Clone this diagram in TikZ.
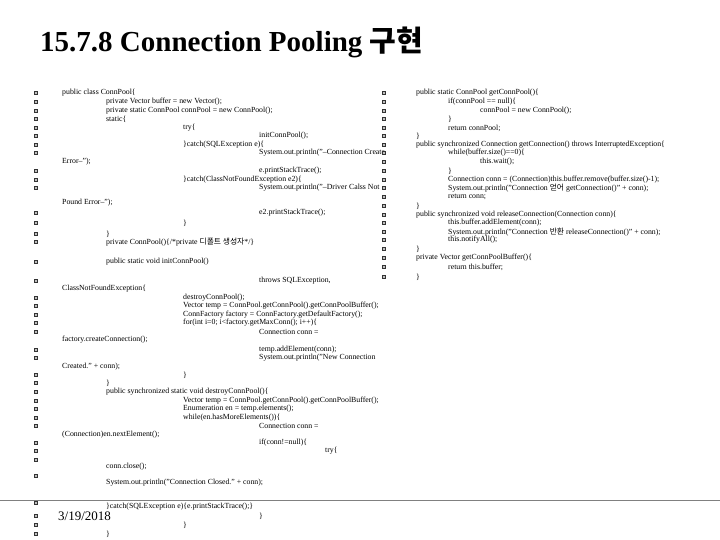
\documentclass[tikz,border=0pt]{standalone}
\usepackage{fontspec}
\setmainfont{Liberation Serif}
\newfontfamily\kr{Noto Sans CJK KR}
\begin{document}
\begin{tikzpicture}[x=1pt,y=-1pt,
  code/.style={anchor=west,inner sep=0pt,font=\fontsize{7.8}{8}\selectfont},
  bul/.style={draw=black!80,fill=black!25,line width=0.6pt,minimum size=3pt,inner sep=0pt}]
\useasboundingbox (0,0) rectangle (720,540);
\newcommand\cl[4]{\node[code] (#1) at (#3,#2) {#4};}
\node[anchor=base west,inner sep=0pt,font=\fontsize{29}{30}\selectfont\bfseries] (title) at (40,52) {15.7.8 Connection Pooling {\kr 구현}};
\draw[gray,line width=0.8pt] (0,500) coordinate (hl) -- (720,500) coordinate (hr);
\node[anchor=west,inner sep=0pt,font=\fontsize{13}{14}\selectfont] (date) at (58,516) {3/19/2018};
% left column
\foreach \y [count=\i] in {93,102,111,119,128,136,145,153,171,180,188,213,223,234,242,262,281,298,306,315,323,332,350,358,375,383,392,401,409,418,426,443,451,460,476,503,516,525,534}
  {\node[bul] (lb\i) at (36,\y) {};}
\cl{a1}{93}{62}{public class ConnPool\{}
\cl{a2}{102}{106}{private Vector buffer = new Vector();}
\cl{a3}{111}{106}{private static ConnPool connPool = new ConnPool();}
\cl{a4}{119}{106}{static\{}
\cl{a5}{128}{183}{try\{}
\cl{a6}{136}{259}{initConnPool();}
\cl{a7}{145}{183}{\}catch(SQLException e)\{}
\cl{a8}{153}{259}{System.out.println("--Connection Create}
\cl{a9}{162}{62}{Error--");}
\cl{a10}{171}{259}{e.printStackTrace();}
\cl{a11}{180}{183}{\}catch(ClassNotFoundException e2)\{}
\cl{a12}{188}{259}{System.out.println("--Driver Calss Not}
\cl{a13}{203}{62}{Pound Error--");}
\cl{a14}{213}{259}{e2.printStackTrace();}
\cl{a15}{223}{183}{\}}
\cl{a16}{234}{106}{\}}
\cl{a17}{242}{106}{private ConnPool()\{/*private {\kr 디폴트 생성자}*/\}}
\cl{a18}{262}{106}{public static void initConnPool()}
\cl{a19}{281}{259}{throws SQLException,}
\cl{a20}{289}{62}{ClassNotFoundException\{}
\cl{a21}{298}{183}{destroyConnPool();}
\cl{a22}{306}{183}{Vector temp = ConnPool.getConnPool().getConnPoolBuffer();}
\cl{a23}{315}{183}{ConnFactory factory = ConnFactory.getDefaultFactory();}
\cl{a24}{323}{183}{for(int i=0; i<factory.getMaxConn(); i++)\{}
\cl{a25}{332}{259}{Connection conn =}
\cl{a26}{340}{62}{factory.createConnection();}
\cl{a27}{350}{259}{temp.addElement(conn);}
\cl{a28}{358}{259}{System.out.println("New Connection}
\cl{a29}{367}{62}{Created." + conn);}
\cl{a30}{375}{183}{\}}
\cl{a31}{383}{106}{\}}
\cl{a32}{392}{106}{public synchronized static void destroyConnPool()\{}
\cl{a33}{401}{183}{Vector temp = ConnPool.getConnPool().getConnPoolBuffer();}
\cl{a34}{409}{183}{Enumeration en = temp.elements();}
\cl{a35}{418}{183}{while(en.hasMoreElements())\{}
\cl{a36}{426}{259}{Connection conn =}
\cl{a37}{435}{62}{(Connection)en.nextElement();}
\cl{a38}{443}{259}{if(conn!=null)\{}
\cl{a39}{451}{325}{try\{}
\cl{a40}{467}{106}{conn.close();}
\cl{a41}{483}{106}{System.out.println("Connection Closed." + conn);}
\cl{a42}{507}{106}{\}catch(SQLException e)\{e.printStackTrace();\}}
\cl{a43}{516}{259}{\}}
\cl{a44}{525}{183}{\}}
\cl{a45}{534}{106}{\}}
% right column
\foreach \y [count=\i] in {93,102,111,119,128,136,145,153,162,171,180,188,197,206,215,223,232,240,249,258,267,277}
  {\node[bul] (rb\i) at (384,\y) {};}
\cl{b1}{93}{416}{public static ConnPool getConnPool()\{}
\cl{b2}{102}{448}{if(connPool == null)\{}
\cl{b3}{111}{480}{connPool = new ConnPool();}
\cl{b4}{119}{448}{\}}
\cl{b5}{128}{448}{return connPool;}
\cl{b6}{136}{416}{\}}
\cl{b7}{145}{416}{public synchronized Connection getConnection() throws InterruptedException\{}
\cl{b8}{153}{448}{while(buffer.size()==0)\{}
\cl{b9}{162}{480}{this.wait();}
\cl{b10}{171}{448}{\}}
\cl{b11}{180}{448}{Connection conn = (Connection)this.buffer.remove(buffer.size()-1);}
\cl{b12}{188}{448}{System.out.println("Connection {\kr 얻어} getConnection()" + conn);}
\cl{b13}{197}{448}{return conn;}
\cl{b14}{206}{416}{\}}
\cl{b15}{215}{416}{public synchronized void releaseConnection(Connection conn)\{}
\cl{b16}{223}{448}{this.buffer.addElement(conn);}
\cl{b17}{232}{448}{System.out.println("Connection {\kr 반환} releaseConnection()" + conn);}
\cl{b18}{240}{448}{this.notifyAll();}
\cl{b19}{249}{416}{\}}
\cl{b20}{258}{416}{private Vector getConnPoolBuffer()\{}
\cl{b21}{267}{448}{return this.buffer;}
\cl{b22}{277}{416}{\}}
\end{tikzpicture}
\end{document}
